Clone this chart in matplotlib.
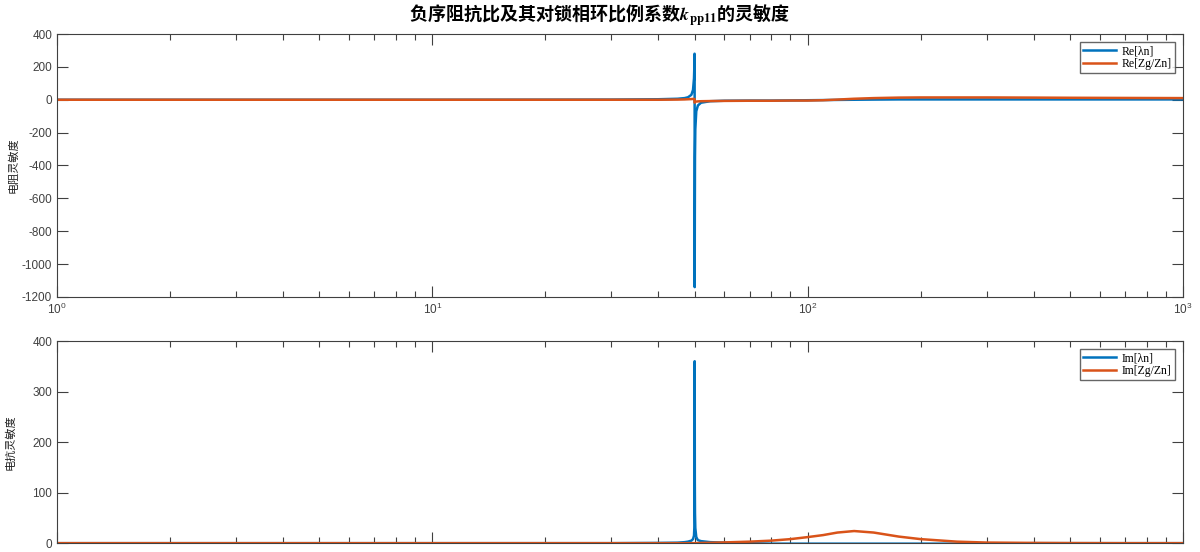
import numpy as np
import matplotlib.pyplot as plt
from matplotlib.ticker import LogLocator, NullFormatter

plt.rcParams['font.family'] = ['Liberation Sans', 'Noto Sans CJK SC', 'DejaVu Sans']
plt.rcParams['mathtext.fontset'] = 'stix'
plt.rcParams['axes.unicode_minus'] = False

# frequency (Hz) sampled near the 50 Hz resonance
freq = [1, 2, 5, 10, 20, 30, 40, 45, 47, 48, 49, 49.5, 49.8, 49.9, 49.95, 49.99,
        50.01, 50.05, 50.1, 50.2, 50.5, 51, 52, 55, 60, 70, 80, 90, 100, 110,
        120, 133, 150, 175, 200, 250, 300, 400, 500, 700, 1000]

# top panel: real parts
re_lam = [0, 0, 0, 0, 0.5, 1, 3, 6, 10, 15, 30, 60, 130, 200, 280, 280,
          -1140, -700, -350, -180, -70, -35, -18, -9, -6, -5, -5, -4, -3, -2,
          -1, 0, 1, 2, 2, 2, 2, 2, 2, 2, 2]
re_zg = [0, 0, 0, 0, 0, 0, 0, 1, 2, 3, 4, 5, 5, 5, 5, 0,
         -18, -15, -13, -12, -11, -10, -9, -8, -7, -6, -6, -5, -5, -3,
         1, 6, 10, 13, 14, 14, 14, 13, 12, 11, 10]

# bottom panel: imaginary parts
im_lam = [0, 0, 0, 0, 0, 0, 0.5, 1, 2, 3, 5, 8, 15, 30, 60, 360,
          360, 120, 60, 30, 12, 6, 4, 2, 1, 0, -1, -1, -1, -1,
          -1, -1, -1, -1, -1, -1, -1, 0, 0, 0, 0]
im_zg = [0, 0, 0, 0, 0, 0, 0, 0, 0, 0, 0, 0, 0, 0, 0, 0,
         0, 0, 0, 0, 0, 0.2, 0.4, 0.8, 1.5, 3, 5, 8, 12, 16,
         21, 24, 21, 13, 8, 3, 1.2, 0.5, 0.2, 0, 0]

blue = '#0072BD'
orange = '#D95319'
axcol = '#404040'

fig = plt.figure(figsize=(12, 5.52), dpi=100)
ax1 = fig.add_axes([0.0475, 0.462, 0.9383, 0.4764])
ax2 = fig.add_axes([0.0475, 0.016, 0.9383, 0.3662])


def style(ax):
    ax.set_xscale('log')
    ax.set_xlim(1, 1000)
    ax.xaxis.set_major_locator(LogLocator(base=10))
    ax.xaxis.set_minor_locator(LogLocator(base=10, subs=np.arange(2, 10)))
    ax.xaxis.set_minor_formatter(NullFormatter())
    ax.tick_params(which='both', direction='in', top=True, right=True,
                   colors=axcol, labelsize=8.5, width=0.8)
    ax.tick_params(which='major', length=8)
    ax.tick_params(which='minor', length=4)
    for s in ax.spines.values():
        s.set_color(axcol)
        s.set_linewidth(0.8)


def add_legend(ax):
    ax.legend(loc='upper right', prop={'family': 'Liberation Serif', 'size': 8.5},
              fancybox=False, edgecolor=axcol, handlelength=2.8, borderaxespad=0.7,
              borderpad=0.25, labelspacing=0.05, handletextpad=0.5)


ax1.plot(freq, re_lam, color=blue, lw=1.8, label='Re[λn]')
ax1.plot(freq, re_zg, color=orange, lw=1.8, label='Re[Zg/Zn]')
style(ax1)
ax1.set_ylim(-1200, 400)
ax1.set_yticks(np.arange(-1200, 401, 200))
ax1.set_ylabel('电阻灵敏度', fontsize=8, color='#202020', labelpad=2)
add_legend(ax1)

ax2.plot(freq, im_lam, color=blue, lw=1.8, label='Im[λn]')
ax2.plot(freq, im_zg, color=orange, lw=1.8, label='Im[Zg/Zn]')
style(ax2)
ax2.tick_params(labelbottom=False)
ax2.set_ylim(0, 400)
ax2.set_yticks([0, 100, 200, 300, 400])
ax2.set_ylabel('电抗灵敏度', fontsize=8, color='#202020', labelpad=12)
add_legend(ax2)

fig.text(0.5, 0.972, r'负序阻抗比及其对锁相环比例系数$\boldsymbol{k}_{\mathbf{pp11}}$的灵敏度',
         ha='center', va='center', fontsize=13, fontweight='bold',
         family=['Noto Sans CJK SC', 'DejaVu Sans'])

fig.savefig('out.png', dpi=100)
